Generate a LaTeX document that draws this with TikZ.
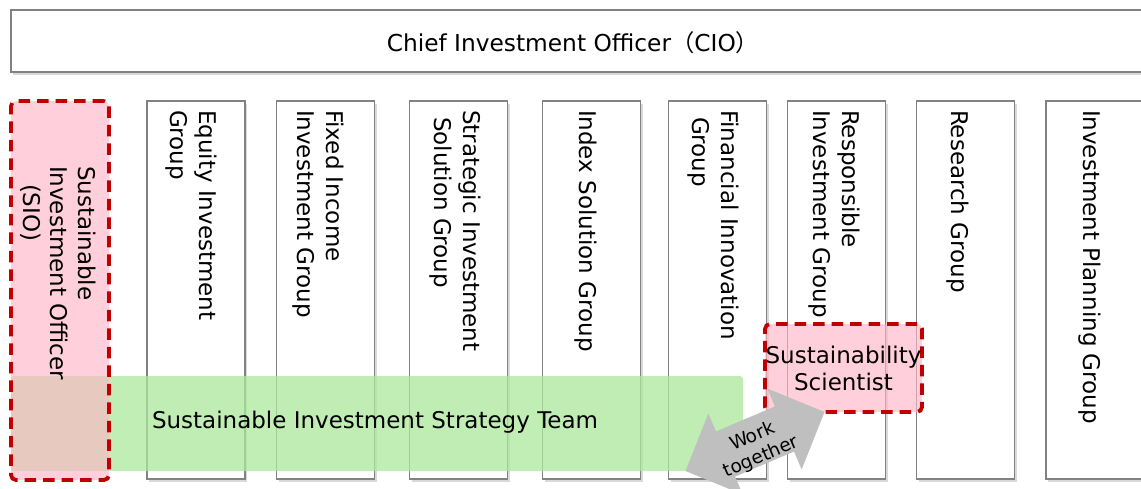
\documentclass[tikz,border=0pt]{standalone}
\usepackage{fontspec}
\setmainfont{DejaVu Sans}
\newfontfamily\cjkfont{Noto Sans CJK JP}
\usetikzlibrary{shadows}
\definecolor{boxgray}{RGB}{130,130,130}
\definecolor{dred}{RGB}{192,0,0}
\definecolor{pinkf}{RGB}{255,180,199}
\definecolor{greenf}{RGB}{171,232,155}
\definecolor{arrowgray}{RGB}{191,191,191}
\begin{document}
\begin{tikzpicture}[x=1pt,y=-1pt,
  every node/.style={inner sep=0pt, outer sep=0pt},
  plainbox/.style={draw=boxgray, line width=1.5pt, fill=white,
    drop shadow={shadow xshift=2pt, shadow yshift=-2.5pt, opacity=0.3}},
  colbox/.style={plainbox, minimum width=98pt, minimum height=378pt},
  coltext/.style={rotate=-90, anchor=west, align=left,
    font=\fontsize{23}{29}\selectfont},
  redbox/.style={draw=dred, line width=3.8pt, dash pattern=on 11.5pt off 7pt,
    fill=pinkf, fill opacity=0.63, text opacity=1, rounded corners=5pt},
  bandbox/.style={fill=greenf, fill opacity=0.75, rounded corners=3pt},
  bigtext/.style={font=\fontsize{23}{27}\selectfont},
  smalltext/.style={font=\fontsize{18.5}{22}\selectfont}
]
\useasboundingbox (0,0) rectangle (1141,488);
\clip (0,0) rectangle (1141,488);

% top box
\node[plainbox, minimum width=1150pt, minimum height=62pt, anchor=north west] (cio) at (11,10) {};
\node[font=\fontsize{23.3}{27}\selectfont, anchor=base] (ciotext) at (573,51) {Chief Investment Officer{\cjkfont （}CIO{\cjkfont ）}};

% column boxes
\node[colbox] (eq) at (196,290) {};
\node[colbox] (fi) at (325.5,290) {};
\node[colbox] (st) at (458.5,290) {};
\node[colbox] (ix) at (591.5,290) {};
\node[colbox] (fn) at (717.5,290) {};
\node[colbox] (rs) at (836.5,290) {};
\node[colbox] (rg) at (965.5,290) {};
\node[colbox, minimum width=99pt] (ip) at (1095.5,290) {};

% green band
\node[bandbox, minimum width=732pt, minimum height=95pt] (team) at (377,423.5) {};

% SIO box
\node[redbox, minimum width=98pt, minimum height=379pt] (sio) at (60,290.5) {};

% Sustainability scientist
\node[redbox, bigtext, align=center, minimum width=157pt, minimum height=88pt] (sci) at (843.5,368) {Sustainability\\Scientist};

% work-together arrow
\begin{scope}[shift={(755,441.5)}, rotate=23]
  \fill[arrowgray] (75.5,0) -- (32,44) -- (32,24.5) -- (-32,24.5) -- (-32,44)
    -- (-75.5,0) -- (-32,-44) -- (-32,-24.5) -- (32,-24.5) -- (32,-44) -- cycle;
\end{scope}
\node[smalltext, rotate=23, align=center] (work) at (757,447) {Work\\together};

% texts
\node[bigtext, anchor=base west] (teamtext) at (152,428) {Sustainable Investment Strategy Team};
\node[coltext, font=\fontsize{23}{27.5}\selectfont] (siotext) at (58,166) {Sustainable\\Investment Officer\\\hspace*{18pt}(SIO)};
\node[coltext] (eqtext) at (191,110) {Equity Investment\\Group};
\node[coltext] (fitext) at (318,110) {Fixed Income\\Investment Group};
\node[coltext] (sttext) at (455,110) {Strategic Investment\\\hspace*{7pt}Solution Group};
\node[coltext] (ixtext) at (586,110) {Index Solution Group};
\node[coltext] (fntext) at (713,110) {Financial Innovation\\\hspace*{7pt}Group};
\node[coltext] (rstext) at (834,110) {Responsible\\Investment Group};
\node[coltext] (rgtext) at (958,110) {Research Group};
\node[coltext] (iptext) at (1090,110) {Investment Planning Group};
\end{tikzpicture}
\end{document}
